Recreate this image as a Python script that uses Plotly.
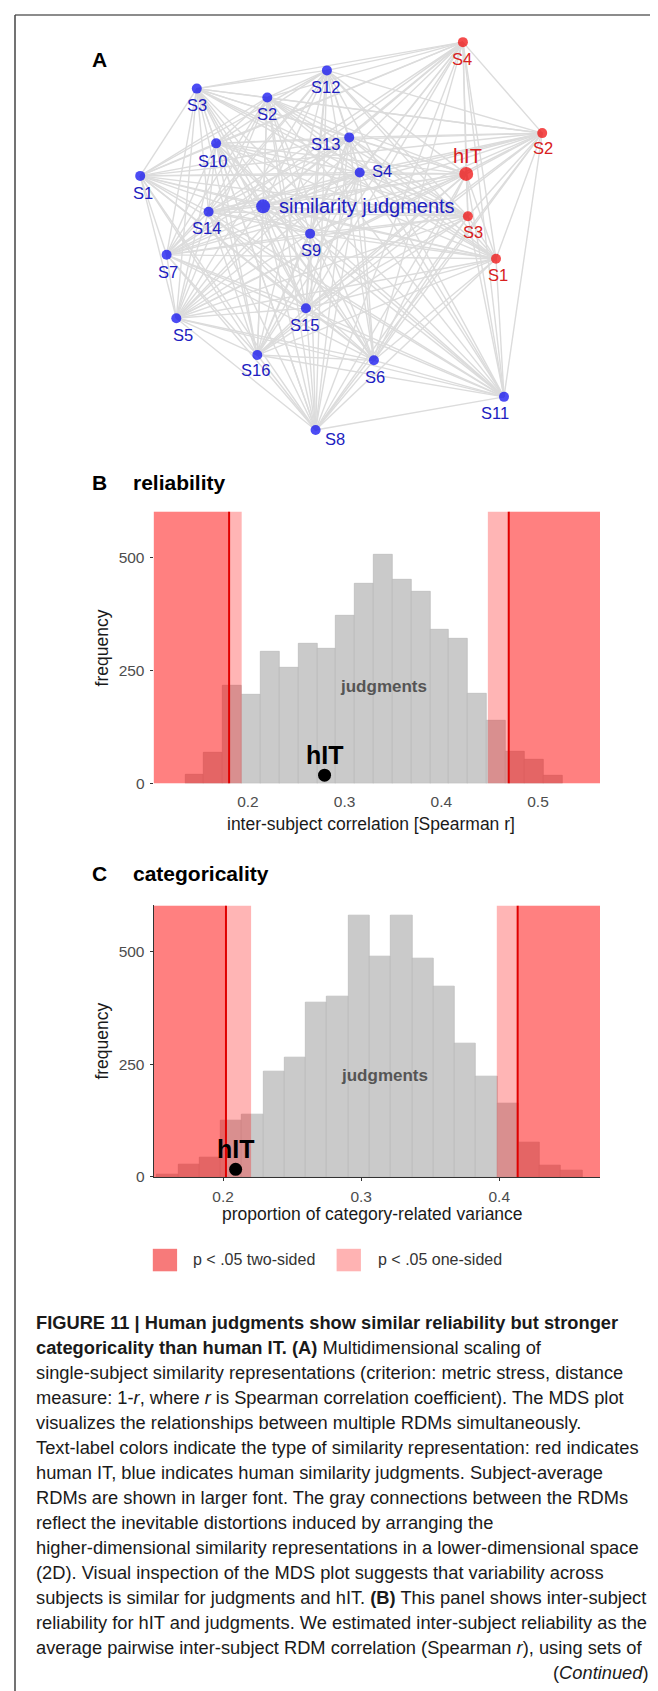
import plotly.graph_objects as go

W, H = 658, 1691
FONT = "Liberation Sans, Arial, sans-serif"

# ---------------- Panel A: MDS arrangement ----------------
node_names = ["S1", "S2", "S3", "S4", "S5", "S6", "S7", "S8", "S9", "S10",
              "S11", "S12", "S13", "S14", "S15", "S16", "similarity judgments",
              "S1", "S2", "S3", "S4", "hIT"]
node_x = [132.2, 259.3, 188.8, 351.7, 168.3, 365.9, 158.6, 307.6, 302.1, 208.1,
          496.0, 318.9, 341.2, 200.6, 297.9, 249.3, 255.1,
          488.0, 534.2, 459.9, 454.9, 458.2]
node_y = [168.7, 90.0, 81.0, 165.3, 311.7, 354.0, 248.0, 424.0, 226.7, 136.0,
          390.7, 62.7, 130.0, 204.7, 301.7, 348.7, 199.3,
          252.0, 125.7, 209.3, 34.3, 166.7]
node_group = ["judgments"] * 17 + ["hIT"] * 5
node_is_average = [False] * 16 + [True] + [False] * 4 + [True]

# ---------------- Panel B: reliability ----------------
rel_bin_left = [0.1350, 0.1545, 0.1740, 0.1935, 0.2130, 0.2325, 0.2520, 0.2715,
                0.2910, 0.3105, 0.3300, 0.3495, 0.3690, 0.3885, 0.4080, 0.4275,
                0.4470, 0.4665, 0.4860, 0.5055]
rel_bin_width = 0.0195
rel_counts = [20, 68, 216, 198, 292, 257, 311, 298, 372, 442, 507, 451, 425,
              340, 321, 199, 140, 70, 52, 18]
rel_two_sided = [0.1805, 0.4697]
rel_one_sided = [0.1935, 0.4481]
rel_hit = [0.2792, 18.5]
rel_xticks = [0.2, 0.3, 0.4, 0.5]

# ---------------- Panel C: categoricality ----------------
cat_bin_left = [0.1521, 0.1675, 0.1829, 0.1983, 0.2137, 0.2291, 0.2445, 0.2599,
                0.2753, 0.2907, 0.3061, 0.3215, 0.3369, 0.3523, 0.3677, 0.3831,
                0.3985, 0.4139, 0.4293, 0.4447]
cat_bin_width = 0.0154
cat_counts = [6, 28, 44, 126, 138, 234, 265, 387, 400, 581, 489, 581, 486, 422,
              296, 224, 164, 76, 25, 14]
cat_two_sided = [0.2021, 0.4133]
cat_one_sided = [0.2203, 0.3982]
cat_hit = [0.2091, 17.0]
cat_xticks = [0.2, 0.3, 0.4]

yticks = [0, 250, 500]

# ---------------- styles / placement ----------------
label_offsets = [(2.9, 16.6, "center"), (-0.4, 16.7, "center"), (0, 16.3, "center"),
                 (10, -1.3, "left"), (7.1, 16.6, "center"), (0.9, 16.7, "center"),
                 (0.9, 17.3, "center"), (19.7, 8.7, "center"), (0.9, 16.6, "center"),
                 (-3.3, 17.3, "center"), (-8.8, 16.0, "center"), (-1.2, 16.6, "center"),
                 (-23.5, 6.7, "center"), (-2.1, 16.6, "center"), (-1.2, 16.6, "center"),
                 (-2.1, 15.3, "center"), (13.5, -0.6, "left"),
                 (1.7, 15.7, "center"), (0.8, 15.3, "center"), (5.5, 15.7, "center"),
                 (-1.3, 16.7, "center"), (1.3, -17.7, "center")]
dot_color = {"judgments": "#0000F0", "hIT": "#F00000"}
text_color = {"judgments": "#2020C0", "hIT": "#D82020"}


def px(x):
    return x / W


def py(y):
    return 1 - y / H


fig = go.Figure()

# connections between all RDMs
lx, ly = [], []
n = len(node_x)
for i in range(n):
    for j in range(i + 1, n):
        lx += [node_x[i], node_x[j], None]
        ly += [node_y[i], node_y[j], None]
fig.add_trace(go.Scatter(x=lx, y=ly, mode="lines", line=dict(color="#DCDCDC", width=1.4),
                         hoverinfo="skip", showlegend=False, xaxis="x", yaxis="y"))
for grp in ["judgments", "hIT"]:
    idx = [k for k in range(n) if node_group[k] == grp]
    fig.add_trace(go.Scatter(
        x=[node_x[k] for k in idx], y=[node_y[k] for k in idx], mode="markers",
        marker=dict(color=dot_color[grp], size=[14 if node_is_average[k] else 10 for k in idx],
                    line=dict(width=0)),
        showlegend=False, xaxis="x", yaxis="y"))

annotations = []
for k in range(n):
    dx, dy, anchor = label_offsets[k]
    annotations.append(dict(
        x=node_x[k], y=node_y[k], xref="x", yref="y", text=node_names[k], showarrow=False,
        xshift=dx, yshift=-dy, xanchor=anchor, yanchor="middle",
        font=dict(family=FONT, size=20 if node_is_average[k] else 16.5,
                  color=text_color[node_group[k]])))


def add_hist(xa, ya, bin_left, width, counts, two_sided, one_sided, hit, xrange, ytop):
    fig.add_trace(go.Bar(x=bin_left, y=counts, width=width, offset=0,
                         marker=dict(color="#CACACA", line=dict(color="#B4B4B4", width=0.6)),
                         showlegend=False, xaxis=xa, yaxis=ya))
    # rejection regions: one-sided (5%) and two-sided (2.5%) tails
    for lo_edge, hi_edge in [(xrange[0], one_sided[0]), (one_sided[1], xrange[1]),
                             (xrange[0], two_sided[0]), (two_sided[1], xrange[1])]:
        fig.add_trace(go.Scatter(x=[lo_edge, hi_edge, hi_edge, lo_edge, lo_edge],
                                 y=[0, 0, ytop, ytop, 0], mode="lines", fill="toself",
                                 fillcolor="rgba(255,0,0,0.29)", line=dict(width=0),
                                 hoverinfo="skip", showlegend=False, xaxis=xa, yaxis=ya))
    for t in two_sided:
        fig.add_trace(go.Scatter(x=[t, t], y=[0, ytop], mode="lines",
                                 line=dict(color="#E00000", width=2),
                                 hoverinfo="skip", showlegend=False, xaxis=xa, yaxis=ya))
    fig.add_trace(go.Scatter(x=[hit[0]], y=[hit[1]], mode="markers",
                             marker=dict(color="black", size=13),
                             showlegend=False, xaxis=xa, yaxis=ya))


YTOP = 602.5
add_hist("x2", "y2", rel_bin_left, rel_bin_width, rel_counts, rel_two_sided,
         rel_one_sided, rel_hit, [0.1024, 0.5642], YTOP)
add_hist("x3", "y3", cat_bin_left, cat_bin_width, cat_counts, cat_two_sided,
         cat_one_sided, cat_hit, [0.1497, 0.4730], YTOP)

# hIT / judgments labels in histograms
for ax, ay, hit, jx, jy in [("x2", "y2", rel_hit, 0.3403, 216), ("x3", "y3", cat_hit, 0.3172, 225)]:
    annotations.append(dict(x=hit[0], y=hit[1], xref=ax, yref=ay, text="<b>hIT</b>",
                            showarrow=False, yshift=20.5, xanchor="center", yanchor="middle",
                            font=dict(family=FONT, size=25, color="black")))
    annotations.append(dict(x=jx, y=jy, xref=ax, yref=ay, text="<b>judgments</b>",
                            showarrow=False, xanchor="center", yanchor="middle",
                            font=dict(family=FONT, size=17, color="#555555")))


def paper_text(x, y, text, size, color="black", anchor="left", angle=0):
    annotations.append(dict(x=px(x), y=py(y), xref="paper", yref="paper", text=text,
                            showarrow=False, xanchor=anchor, yanchor="middle",
                            textangle=angle, font=dict(family=FONT, size=size, color=color)))


# panel headings
paper_text(91.5, 51.7, "<b>A</b>", 21, anchor="center")
paper_text(91.5, 476.7, "<b>B</b>", 21, anchor="center")
paper_text(122.5, 476.7, "<b>reliability</b>", 21)
paper_text(91.5, 870, "<b>C</b>", 21, anchor="center")
paper_text(122.5, 870, "<b>categoricality</b>", 21)

# axis titles
paper_text(94.2, 643.3, "frequency", 17.5, color="#1a1a1a", anchor="center", angle=-90)
paper_text(94.2, 1038.3, "frequency", 17.5, color="#1a1a1a", anchor="center", angle=-90)
paper_text(363.4, 820, "inter-subject correlation [Spearman r]", 17.5, color="#1a1a1a", anchor="center")
paper_text(364.2, 1211.7, "proportion of category-related variance", 17.5, color="#1a1a1a", anchor="center")

# legend
shapes = []
shapes.append(dict(type="rect", xref="paper", yref="paper", x0=px(144.8), x1=px(169.1),
                   y0=py(1269.3), y1=py(1246.7), fillcolor="#F77A7A", line=dict(width=0)))
shapes.append(dict(type="rect", xref="paper", yref="paper", x0=px(328.6), x1=px(352.9),
                   y0=py(1269.3), y1=py(1246.7), fillcolor="#FFB3B3", line=dict(width=0)))
paper_text(183.4, 1257.7, "p &lt; .05 two-sided", 16, color="#333333")
paper_text(368, 1257.7, "p &lt; .05 one-sided", 16, color="#333333")

# caption
caption_lines = [
    "<b>FIGURE 11 | Human judgments show similar reliability but stronger</b>",
    "<b>categoricality than human IT. (A)</b> Multidimensional scaling of",
    "single-subject similarity representations (criterion: metric stress, distance",
    "measure: 1-<i>r</i>, where <i>r</i> is Spearman correlation coefficient). The MDS plot",
    "visualizes the relationships between multiple RDMs simultaneously.",
    "Text-label colors indicate the type of similarity representation: red indicates",
    "human IT, blue indicates human similarity judgments. Subject-average",
    "RDMs are shown in larger font. The gray connections between the RDMs",
    "reflect the inevitable distortions induced by arranging the",
    "higher-dimensional similarity representations in a lower-dimensional space",
    "(2D). Visual inspection of the MDS plot suggests that variability across",
    "subjects is similar for judgments and hIT. <b>(B)</b> This panel shows inter-subject",
    "reliability for hIT and judgments. We estimated inter-subject reliability as the",
    "average pairwise inter-subject RDM correlation (Spearman <i>r</i>), using sets of",
]
caption_y = [1320.7, 1345.7, 1370.5, 1396, 1421.5, 1446.5, 1471.5, 1496.5, 1521.5,
             1546.5, 1571.7, 1597, 1622.5, 1647.3]
for line, yy in zip(caption_lines, caption_y):
    paper_text(26, yy, line, 18.3, color="#1a1a1a")
paper_text(643, 1672.3, "(<i>Continued</i>)", 18.3, color="#1a1a1a", anchor="right")

# page frame (top and left edges)
shapes.append(dict(type="line", xref="paper", yref="paper", x0=px(7), x1=1, y0=py(7), y1=py(7),
                   line=dict(color="#666666", width=1.5)))
shapes.append(dict(type="line", xref="paper", yref="paper", x0=px(7), x1=px(7), y0=py(7), y1=0,
                   line=dict(color="#444444", width=1.5)))

tickfont = dict(family=FONT, size=15.5, color="#4D4D4D")
common_y = dict(showgrid=False, zeroline=False, ticks="outside", ticklen=3, tickcolor="#333333",
                tickwidth=1, tickfont=tickfont, tickvals=yticks, range=[0, YTOP],
                ticklabelstandoff=2)

fig.update_layout(
    width=W, height=H, margin=dict(l=0, r=0, t=0, b=0),
    paper_bgcolor="white", plot_bgcolor="rgba(0,0,0,0)",
    font=dict(family=FONT),
    showlegend=False, bargap=0,
    xaxis=dict(domain=[0, 1], range=[0, W], visible=False),
    yaxis=dict(domain=[0, 1], range=[H, 0], visible=False),
    xaxis2=dict(domain=[px(145.6), px(592.1)], range=[0.1024, 0.5642], anchor="y2",
                tickvals=rel_xticks, showgrid=False, zeroline=False, ticks="",
                tickfont=tickfont, ticklabelstandoff=7),
    yaxis2=dict(domain=[py(779.2), py(506)], anchor="x2", **common_y),
    xaxis3=dict(domain=[px(145.6), px(592.1)], range=[0.1497, 0.4730], anchor="y3",
                tickvals=cat_xticks, showgrid=False, zeroline=False, ticks="outside",
                ticklen=3, tickcolor="#333333", tickwidth=1, tickfont=tickfont,
                ticklabelstandoff=2, showline=True, linecolor="#333333", linewidth=1),
    yaxis3=dict(domain=[py(1174.5), py(901.7)], anchor="x3", showline=True,
                linecolor="#333333", linewidth=1, **common_y),
    annotations=annotations,
    shapes=shapes,
)

fig.write_html("out.html")
